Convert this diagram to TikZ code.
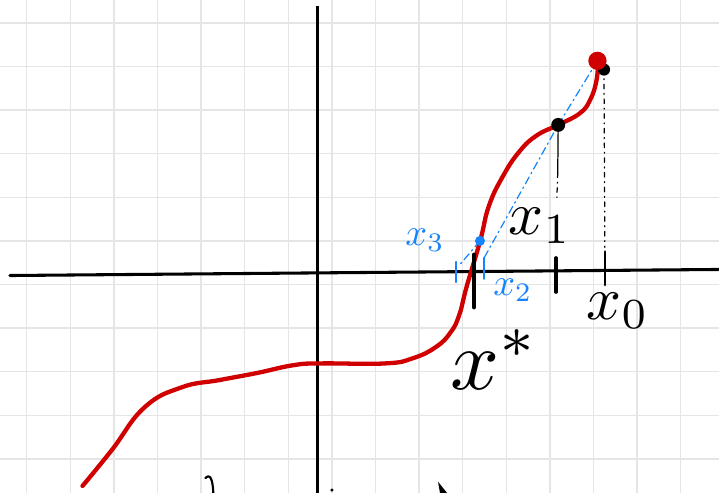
\documentclass[tikz,border=0pt]{standalone}
\usepackage{amsmath}
\definecolor{penred}{RGB}{208,0,0}
\definecolor{penblue}{RGB}{22,132,250}
\definecolor{gridgray}{RGB}{229,229,229}

\begin{document}
\begin{tikzpicture}[line cap=round, line join=round,
    gridline/.style={gridgray, line width=0.9pt},
    axis/.style={black, line width=2pt},
    curve/.style={penred, line width=2.8pt},
    secant/.style={penblue, line width=0.8pt, dash pattern=on 5pt off 2.5pt on 1pt off 2.5pt},
    guide/.style={black, line width=0.8pt, dash pattern=on 3pt off 3pt on 0.6pt off 3pt},
    tick/.style={black, line width=2.4pt},
    btick/.style={penblue, line width=1.6pt},
    lbl/.style={inner sep=0pt, scale=4},
    blbl/.style={inner sep=0pt, scale=2.5, text=penblue}]
    \useasboundingbox (-0.612,-0.759) rectangle (15.878,10.525);
    \clip (-0.612,-0.759) rectangle (15.878,10.525);
    % Grid paper
    \foreach \i in {0,...,15} \draw[gridline] (\i,-0.9) -- (\i,10.6);
    \foreach \j in {0,...,10} \draw[gridline] (-0.7,\j) -- (16,\j);
    % Axes
    \coordinate (xl) at (-0.383,4.206);
    \coordinate (xr) at (16.0,4.346);
    \coordinate (yt) at (6.665,10.388);
    \coordinate (yb) at (6.665,-0.9);
    \draw[axis] (xl) -- (xr);
    \draw[axis, line width=1.8pt, line cap=butt] (yb) -- (yt);
    % Function
    \draw[curve] plot[smooth, tension=0.75] coordinates {
        (1.28,-0.62) (1.95,0.20) (2.70,1.18) (3.55,1.64) (4.43,1.81)
        (5.28,1.97) (6.12,2.15) (6.75,2.19) (8.22,2.19) (8.86,2.31)
        (9.39,2.57) (9.72,2.90) (9.92,3.30) (10.09,3.95) (10.40,5.00)
        (10.60,5.80) (10.92,6.48) (11.30,7.05) (11.70,7.42) (12.19,7.66)
        (12.69,7.93) (12.93,8.25) (13.07,8.69) (13.10,9.10)};
    % Iterates on the curve
    \coordinate (P0) at (13.09,9.13);
    \coordinate (Q0) at (13.24,8.93);
    \coordinate (P1) at (12.19,7.66);
    \coordinate (P2) at (10.396,5.0);
    % Ticks on the axis
    \coordinate (T0a) at (13.264,4.752); \coordinate (T0b) at (13.264,3.989);
    \coordinate (T1a) at (12.140,4.608); \coordinate (T1b) at (12.140,3.828);
    \coordinate (Tsa) at (10.259,4.677); \coordinate (Tsb) at (10.259,3.484);
    \coordinate (T2a) at (10.489,4.608); \coordinate (T2b) at (10.489,4.133);
    \coordinate (T3a) at (9.846,4.516);  \coordinate (T3b) at (9.846,4.057);
    \draw[tick, line width=1.9pt] (T0a) -- (T0b);
    \draw[tick] (T1a) -- (T1b);
    \draw[tick, line width=3.2pt] (Tsa) -- (Tsb);
    \draw[btick] (T2a) -- (T2b);
    \draw[btick] (T3a) -- (T3b);
    % Vertical guides
    \coordinate (G1) at (12.179,6.557);
    \coordinate (G1e) at (12.16,6.0);
    \coordinate (G0) at (13.26,4.85);
    \draw[black, line width=0.8pt] (P1) -- (G1);
    \draw[guide] (G1) -- (G1e);
    \draw[guide] (Q0) -- (G0);
    % Secant lines (dashed blue)
    \coordinate (E3) at (9.93,4.45);
    \draw[secant] (P0) -- (P1) -- (T2a);
    \draw[secant] (P2) -- (E3);
    % Dots
    \fill (Q0) circle (0.14);
    \fill[penred] (P0) circle (0.21);
    \fill (P1) circle (0.16);
    \fill[penblue] (P2) circle (0.115);
    % Labels
    \node[lbl] (lx0) at (13.56,3.40) {$x_0$};
    \node[lbl] (lx1) at (11.773,5.34) {$x_1$};
    \node[blbl] (lx2) at (11.15,3.86) {$x_2$};
    \node[blbl] (lx3) at (9.135,5.02) {$x_3$};
    \node[lbl, scale=1.4] (lxs) at (10.741,2.28) {$x^{*}$};
    % Strokes cut off at the bottom edge
    \draw[black, line width=1.4pt] (4.10,-0.44) .. controls (4.20,-0.33) and (4.27,-0.45) .. (4.28,-0.80);
    \fill (7.002,-0.713) circle (0.04);
    \fill (9.434,-0.523) -- (9.640,-0.780) -- (9.479,-0.780) -- cycle;
\end{tikzpicture}
\end{document}
